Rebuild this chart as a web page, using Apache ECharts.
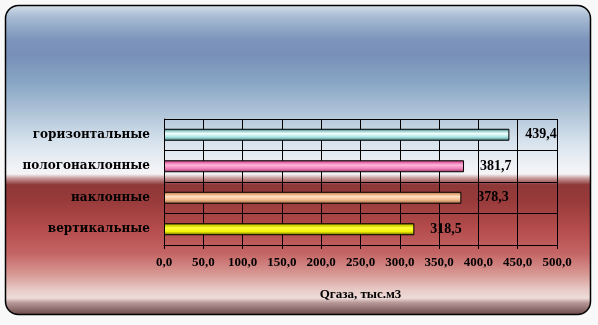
<!DOCTYPE html>
<html>
<head>
<meta charset="utf-8">
<script src="https://cdn.jsdelivr.net/npm/echarts@6/dist/echarts.min.js"></script>
<style>
html,body{margin:0;padding:0;background:#f8f8f8;}
#c{width:598px;height:325px;}
</style>
</head>
<body>
<div id="c"></div>
<script>
var categories = ['горизонтальные', 'пологонаклонные', 'наклонные', 'вертикальные'];
var values = [439.4, 381.7, 378.3, 318.5];
var axisTicks = [0, 50, 100, 150, 200, 250, 300, 350, 400, 450, 500];
var axisName = 'Qгаза, тыс.м3';

var barColors = [
  ['#2f6464', '#9ccfcf', '#f2ffff', '#a8e4e4', '#3c7070'],
  ['#a8306c', '#e870aa', '#ffb8dc', '#f080b8', '#90305c'],
  ['#9a6038', '#e8a878', '#ffe0c0', '#f0b888', '#8a5430'],
  ['#6a6a00', '#d8d800', '#ffff40', '#f0f000', '#5a5a00']
];
function grad(c){
  return new echarts.graphic.LinearGradient(0,0,0,1,[
    {offset:0,color:c[0]},{offset:0.2,color:c[1]},{offset:0.4,color:c[2]},
    {offset:0.7,color:c[3]},{offset:1,color:c[4]}]);
}
function fmt(v){ return v.toFixed(1).replace('.', ','); }

var chart = echarts.init(document.getElementById('c'), null, {renderer:'canvas'});
var serif = '"Liberation Serif","Times New Roman",serif';
chart.setOption({
  animation:false,
  backgroundColor:'#f8f8f8',
  graphic:[{
    type:'rect', z:-10, silent:true,
    shape:{x:5.5,y:5.5,width:585,height:309,r:13},
    style:{
      stroke:'#000', lineWidth:1.5,
      fill:new echarts.graphic.LinearGradient(0,0,0,1,[
        {offset:0.00,color:'#d6e0ea'},
        {offset:0.04,color:'#a6bad2'},
        {offset:0.11,color:'#7e96bc'},
        {offset:0.16,color:'#7890b8'},
        {offset:0.25,color:'#88a6c4'},
        {offset:0.33,color:'#a8bed4'},
        {offset:0.44,color:'#d6e2ec'},
        {offset:0.52,color:'#f0f2f6'},
        {offset:0.545,color:'#f4f4f6'},
        {offset:0.56,color:'#c49494'},
        {offset:0.58,color:'#8e3838'},
        {offset:0.63,color:'#983a3a'},
        {offset:0.72,color:'#b44c4c'},
        {offset:0.80,color:'#c46464'},
        {offset:0.87,color:'#d89a96'},
        {offset:0.92,color:'#e8ccc8'},
        {offset:0.945,color:'#eedcd8'},
        {offset:0.96,color:'#b69696'},
        {offset:1.00,color:'#684646'}
      ])
    }
  }],
  grid:{left:164, right:41, top:119, bottom:80, containLabel:false},
  xAxis:{
    type:'value', min:axisTicks[0], max:axisTicks[axisTicks.length-1], interval:axisTicks[1]-axisTicks[0],
    name:axisName, nameLocation:'middle', nameGap:43,
    nameTextStyle:{fontFamily:serif, fontWeight:'bold', fontSize:13, color:'#000'},
    axisLine:{show:true, lineStyle:{color:'#000', width:1}},
    axisTick:{show:true, length:4, lineStyle:{color:'#000'}},
    axisLabel:{fontFamily:serif, fontWeight:'bold', fontSize:13, color:'#000', margin:11, formatter:function(v){return fmt(v);}},
    splitLine:{show:true, lineStyle:{color:'#000', width:1}}
  },
  yAxis:{
    type:'category', data:categories, inverse:true,
    axisLine:{show:true, lineStyle:{color:'#000', width:1}},
    axisTick:{show:false},
    axisLabel:{fontFamily:'"DejaVu Serif",serif', fontWeight:'bold', fontSize:12, color:'#000', margin:14},
    splitLine:{show:true, lineStyle:{color:'#000', width:1}}
  },
  series:[{
    type:'bar', barWidth:12,
    data:values.map(function(v,i){
      return {value:v, itemStyle:{color:grad(barColors[i]), borderColor:'#000', borderWidth:1}};
    }),
    label:{show:true, position:'right', distance:16, fontFamily:serif, fontWeight:'bold', fontSize:14, color:'#000',
      formatter:function(p){return fmt(p.value);}}
  }]
});
</script>
</body>
</html>
